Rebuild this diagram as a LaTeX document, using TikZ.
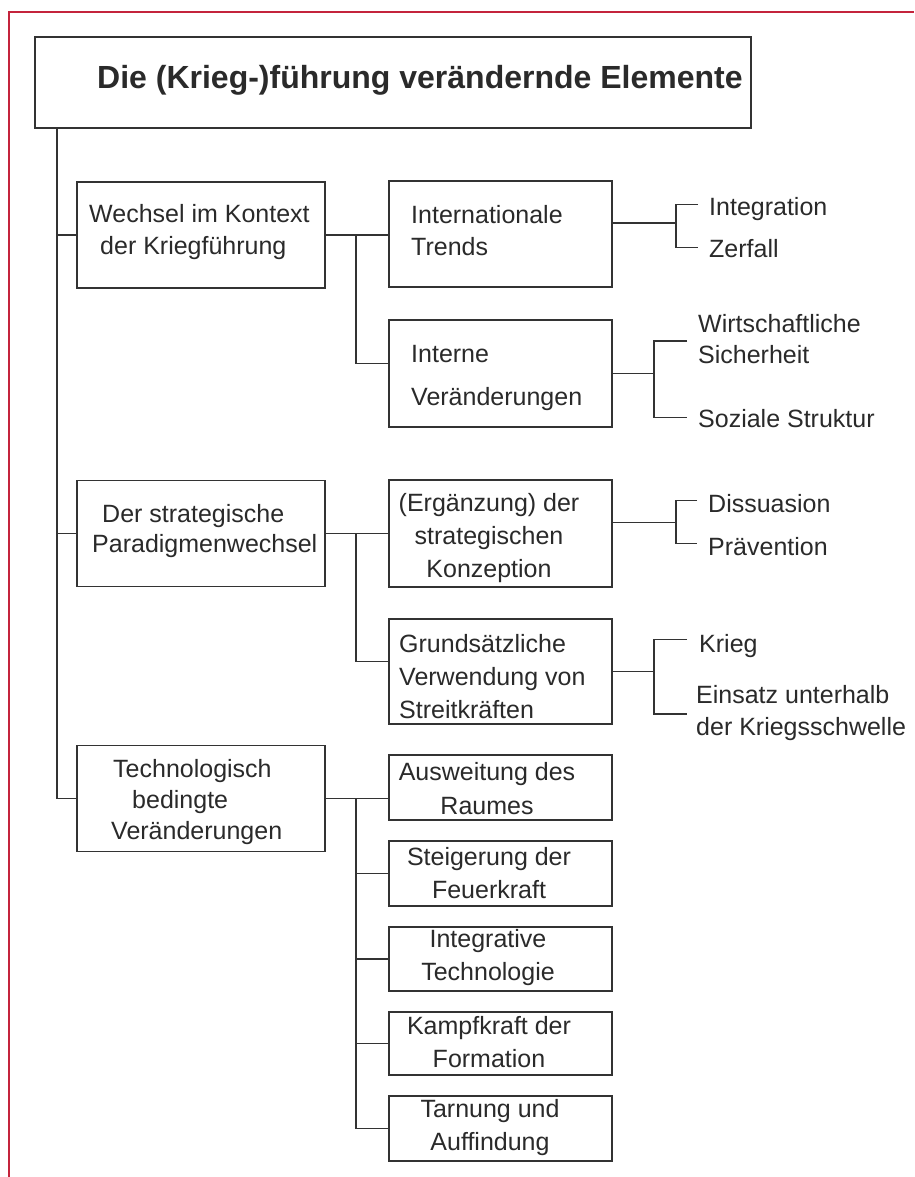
\documentclass[tikz,border=0pt]{standalone}
\usepackage{fontspec}
\setmainfont{Liberation Sans}
\definecolor{ink}{HTML}{333333}
\definecolor{txt}{HTML}{2A2A2A}
\definecolor{frame}{HTML}{C4243C}
\begin{document}
\begin{tikzpicture}[x=1pt,y=-1pt,
  bx/.style={draw=ink, line width=1.6pt, inner sep=0pt},
  lone/.style={bx, minimum width=248pt, minimum height=106pt},
  ltwo/.style={bx, minimum width=223pt, minimum height=106pt},
  lsmall/.style={bx, minimum width=223pt, minimum height=65pt},
  tx/.style={inner sep=0pt, text=txt, font=\fontsize{25}{33}\selectfont},
  ctx/.style={tx, align=center},
  ltx/.style={tx, align=left, anchor=west},
  leaf/.style={tx, align=left, anchor=west, text height=18pt, text depth=5pt},
  con/.style={draw=ink, line width=1.3pt}]
\useasboundingbox (0,0) rectangle (914,1177);
\fill[white] (0,0) rectangle (914,1177);
\draw[frame, line width=2pt] (9,1177) -- (9,12) -- (914,12);

% title
\node[bx, minimum width=716pt, minimum height=91pt] (title) at (393,82.5) {};
\node[anchor=base west, inner sep=0pt, text=txt, font=\fontsize{32}{38}\selectfont\bfseries] (titlet) at (97,89) {Die (Krieg-)führung verändernde Elemente};

% level 1
\node[lone] (b1) at (201,235) {};
\node[ltx, font=\fontsize{25}{32}\selectfont] (b1t) at (89,232) {Wechsel im Kontext\\\hspace*{11pt}der Kriegführung};
\node[lone] (b2) at (201,533.5) {};
\node[ltx, font=\fontsize{25}{30}\selectfont] (b2t) at (92,531) {\hspace*{10pt}Der strategische\\Paradigmenwechsel};
\node[lone] (b3) at (201,798.5) {};
\node[ltx, font=\fontsize{25}{31}\selectfont] (b3t) at (111,802) {\hspace*{2pt}Technologisch\\\hspace*{21pt}bedingte\\Veränderungen};

% level 2
\node[ltwo] (it) at (500.5,234) {};
\node[ltx, font=\fontsize{25}{32}\selectfont] (itt) at (411,231) {Internationale\\Trends};
\node[ltwo, minimum height=107pt] (iv) at (500.5,373.5) {};
\node[ltx, font=\fontsize{25}{43}\selectfont] (ivt) at (411,378) {Interne\\Veränderungen};
\node[ltwo, minimum height=107pt] (erg) at (500.5,533.5) {};
\node[ctx] (ergt) at (489,538) {(Ergänzung) der\\strategischen\\Konzeption};
\node[ltwo, minimum height=105pt] (gru) at (500.5,671.5) {};
\node[ltx] (grut) at (399,677) {Grundsätzliche\\Verwendung von\\Streitkräften};

% technology boxes
\node[lsmall] (aus) at (500.5,787.5) {};
\node[ctx, font=\fontsize{25}{34}\selectfont] (aust) at (487,789) {Ausweitung des\\Raumes};
\node[lsmall] (ste) at (500.5,873.5) {};
\node[ctx] (stet) at (489,873) {Steigerung der\\Feuerkraft};
\node[lsmall, minimum height=64pt] (itg) at (500.5,959) {};
\node[ctx] (itgt) at (488,958) {Integrative\\Technologie};
\node[lsmall, minimum height=63pt] (kam) at (500.5,1043.5) {};
\node[ctx] (kamt) at (489,1042) {Kampfkraft der\\Formation};
\node[lsmall] (tar) at (500.5,1128.5) {};
\node[ctx] (tart) at (490,1128) {Tarnung und\\Auffindung};

% leaves
\node[leaf] (l1) at (709,208.5) {Integration};
\node[leaf] (l2) at (709,250.5) {Zerfall};
\node[ltx, font=\fontsize{25}{31}\selectfont] (l3) at (698,339) {Wirtschaftliche\\Sicherheit};
\node[leaf] (l4) at (698,420.5) {Soziale Struktur};
\node[leaf] (l5) at (708,505.5) {Dissuasion};
\node[leaf] (l6) at (708,548.5) {Prävention};
\node[leaf] (l7) at (699,645.5) {Krieg};
\node[ltx, font=\fontsize{25}{32}\selectfont] (l8) at (696,713) {Einsatz unterhalb\\der Kriegsschwelle};

% helper coordinates
\coordinate (tr) at (57,0);
\coordinate (v) at (356,0);
\coordinate (k1) at (676,0);
\coordinate (k2) at (654,0);
\coordinate (ite) at ([yshift=11pt]it.east);
\coordinate (erge) at ([yshift=11pt]erg.east);
\coordinate (s1) at ([shift={(-11pt,4pt)}]l1.west);
\coordinate (s2) at ([shift={(-11pt,3pt)}]l2.west);
\coordinate (s3) at ([shift={(-11pt,-2pt)}]l3.west);
\coordinate (s4) at ([shift={(-11pt,3pt)}]l4.west);
\coordinate (s5) at ([shift={(-11pt,5pt)}]l5.west);
\coordinate (s6) at ([shift={(-11pt,5pt)}]l6.west);
\coordinate (s7) at ([shift={(-12pt,6pt)}]l7.west);
\coordinate (s8) at ([shift={(-9pt,-1pt)}]l8.west);
\coordinate (ivw) at ([yshift=10pt]iv.west);
\coordinate (gruw) at ([yshift=10pt]gru.west);

% trunk
\draw[con] (title.south -| tr) |- (b3.west);
\draw[con] (tr |- b1.west) -- (b1.west);
\draw[con] (tr |- b2.west) -- (b2.west);

% branch 1
\draw[con] (b1.east) -- (b1.east -| it.west);
\draw[con] (v |- b1.east) |- (ivw);
\draw[con] (ite) -- (k1 |- ite);
\draw[con] (s1) -| (k1 |- ite) |- (s2);
\draw[con] (iv.east) -- (k2 |- iv.east);
\draw[con] (s3) -| (k2 |- iv.east) |- (s4);

% branch 2
\draw[con] (b2.east) -- (b2.east -| erg.west);
\draw[con] (v |- b2.east) |- (gruw);
\draw[con] (erge) -- (k1 |- erge);
\draw[con] (s5) -| (k1 |- erge) |- (s6);
\draw[con] (gru.east) -- (k2 |- gru.east);
\draw[con] (s7) -| (k2 |- gru.east) |- (s8);

% branch 3
\draw[con] (b3.east) -- (b3.east -| aus.west);
\draw[con] (v |- b3.east) |- (tar.west);
\draw[con] (v |- ste.west) -- (ste.west);
\draw[con] (v |- itg.west) -- (itg.west);
\draw[con] (v |- kam.west) -- (kam.west);
\end{tikzpicture}
\end{document}
